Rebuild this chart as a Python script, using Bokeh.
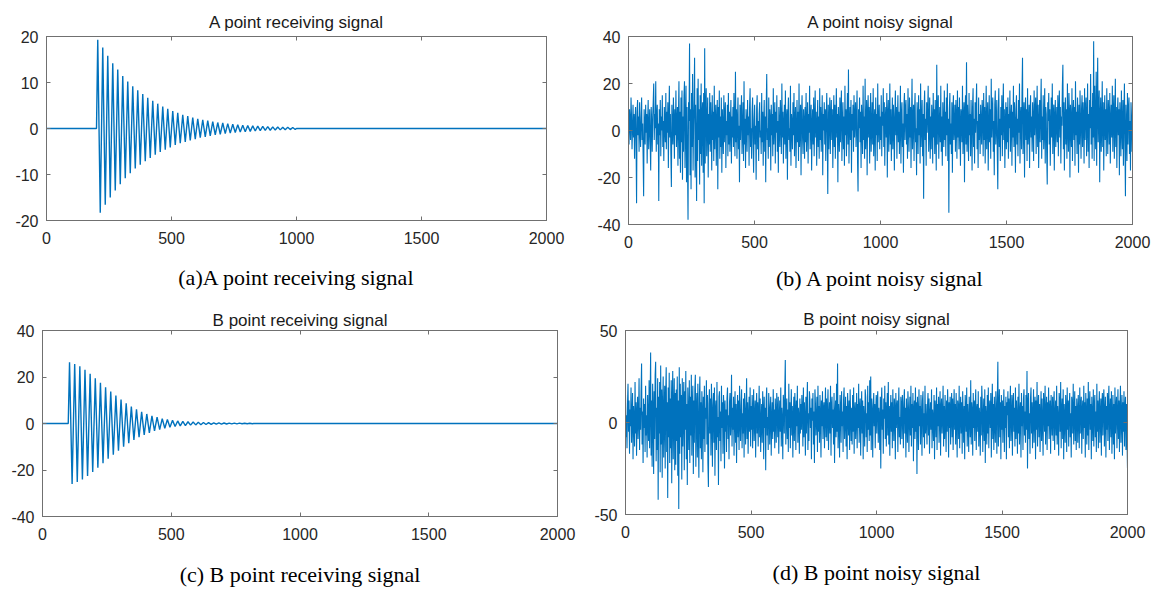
import numpy as np
from bokeh.plotting import figure
from bokeh.layouts import column, row
from bokeh.models import Title, LinearAxis, FixedTicker, Range1d
from bokeh.embed import file_html
from bokeh.resources import INLINE

# ---------------- data ----------------
x_ticks = [0, 500, 1000, 1500, 2000]

titles = ["A point receiving signal", "A point noisy signal",
          "B point receiving signal", "B point noisy signal"]
captions = ["(a)A point receiving signal", "(b) A point noisy signal",
            "(c) B point receiving signal", "(d) B point noisy signal"]

a_yticks = [-20, -10, 0, 10, 20]
b_yticks = [-40, -20, 0, 20, 40]
c_yticks = [-40, -20, 0, 20, 40]
d_yticks = [-50, 0, 50]

# (a) A point receiving signal: sample index of each turning point and its value
a_t = [0, 200,
       205, 215, 225, 235, 245, 255, 265, 275, 285, 295,
       305, 315, 325, 335, 345, 355, 365, 375, 385, 395,
       405, 415, 425, 435, 445, 455, 465, 475, 485, 495,
       505, 515, 525, 535, 545, 555, 565, 575, 585, 595,
       605, 615, 625, 635, 645, 655, 665, 675, 685, 695,
       705, 715, 725, 735, 745, 755, 765, 775, 785, 795,
       805, 815, 825, 835, 845, 855, 865, 875, 885, 895,
       905, 915, 925, 935, 945, 955, 965, 975, 985, 995,
       1000, 2000]
a_v = [0, 0,
       19.3, -18.3, 17.6, -16.6, 15.8, -15.0, 14.2, -13.5, 12.8, -12.1,
       11.4, -10.8, 10.2, -9.7, 9.2, -8.7, 8.3, -7.9, 7.5, -7.1,
       6.7, -6.4, 6.0, -5.7, 5.4, -5.1, 4.8, -4.6, 4.3, -4.1,
       3.8, -3.6, 3.4, -3.2, 3.0, -2.9, 2.7, -2.6, 2.4, -2.3,
       2.1, -2.0, 1.9, -1.8, 1.7, -1.6, 1.5, -1.4, 1.3, -1.25,
       1.2, -1.1, 1.05, -1.0, 0.93, -0.88, 0.82, -0.78, 0.73, -0.69,
       0.65, -0.62, 0.58, -0.55, 0.51, -0.48, 0.45, -0.43, 0.40, -0.38,
       0.36, -0.34, 0.32, -0.30, 0.28, -0.27, 0.25, -0.24, 0.22, -0.21,
       0, 0]

# (c) B point receiving signal: turning points
c_t = [0, 100,
       105, 115, 125, 135, 145, 155, 165, 175, 185, 195,
       205, 215, 225, 235, 245, 255, 265, 275, 285, 295,
       305, 315, 325, 335, 345, 355, 365, 375, 385, 395,
       405, 415, 425, 435, 445, 455, 465, 475, 485, 495,
       505, 515, 525, 535, 545, 555, 565, 575, 585, 595,
       605, 615, 625, 635, 645, 655, 665, 675, 685, 695,
       705, 715, 725, 735, 745, 755, 765, 775, 785, 795,
       805, 815,
       820, 2000]
c_v = [0, 0,
       26.3, -26.0, 25.6, -25.2, 24.6, -24.1, 23.1, -22.6, 21.4, -20.9,
       19.5, -19.0, 17.5, -17.1, 15.6, -15.2, 13.8, -13.4, 12.0, -11.7,
       10.3, -10.0, 8.7, -8.5, 7.3, -7.1, 6.1, -5.9, 5.0, -4.9,
       4.1, -4.0, 3.3, -3.2, 2.7, -2.6, 2.1, -2.05, 1.7, -1.65,
       1.35, -1.3, 1.1, -1.05, 0.9, -0.88, 0.75, -0.72, 0.62, -0.6,
       0.52, -0.5, 0.44, -0.42, 0.37, -0.36, 0.31, -0.3, 0.26, -0.25,
       0.22, -0.21, 0.19, -0.18, 0.16, -0.15, 0.14, -0.13, 0.12, -0.11,
       0.10, -0.09,
       0, 0]

# (b) A point noisy signal, every 2nd sample (each row = 100 samples)
b_v = [
    2, -6, 9, 3, -4, 14, 6, -8, 1, 11, -3, 7, -12, 4, 10, -5, -31, 8, 13, -2, 6, -9, 12, 0, -7, 5, 14, -4, 3, -11, -28, 9, 2, -6, 11, -1, 7, -14, 4, 13, -8, 1, 9, -5, -17, 10, 3, -9, 6, 12,
    20, -4, 7, 1, 21, -9, 5, 11, -6, 3, -30, 9, -2, 13, -11, 6, 0, 15, -7, 4, -13, 10, 2, -5, 16, -8, 8, -1, 12, -16, 5, 19, -3, 7, -10, -24, 11, 1, -6, 14, 4, -12, 9, -2, 17, -7, 3, 10, -15, 6,
    21, -12, 8, -18, 14, -5, 17, -21, 6, -9, 15, 21, -16, 3, 19, -22, 10, -14, -38, 12, 4, 37, -19, 9, -25, 16, -7, 24, -17, 2, 13, 31, -20, 11, -6, -30, 18, -13, 22, -4, 9, -23, 15, -10, 20, -15, 7, 12, -18, 16,
    -31, 35, -14, 9, 18, -11, 4, 14, -20, 7, -6, 16, -9, 12, 2, -17, 15, -4, 8, -13, 19, -8, 5, 11, -15, 3, 13, -25, 10, -3, 17, -12, 6, -7, 14, -18, 9, 1, -10, 15, -5, 7, 12, -16, 4, -2, 11, -11, 16, -6,
    8, -9, 3, 13, -14, 6, -3, 10, -7, 16, 1, -11, 25, -5, 9, -12, 4, 14, -8, 2, -22, 11, -4, 7, 15, -10, 0, 12, -13, 21, -6, 5, -16, 9, 3, -9, 13, -2, 6, -15, 10, 18, -7, 1, -12, 8, 14, -5, -18, 4,
    11, -6, 2, -21, 9, 15, -8, 4, -13, 7, 12, -3, 0, -10, 16, -5, 8, -15, 3, 13, -9, 6, -22, 10, 24, -4, 1, -12, 14, -7, 9, 5, -17, 11, -2, 7, -11, 18, -6, 3, 12, -14, 8, -1, 15, -9, 4, -18, 10, 2,
    -7, 13, 5, -10, 20, -3, 8, -14, 2, 11, -6, 17, -12, 4, 9, -21, 6, 14, -4, 1, -9, 19, -15, 7, 3, -8, 12, -2, 16, -11, 5, 10, -16, 0, 13, -5, 8, -13, 20, -7, 2, 11, -19, 6, 15, -3, -10, 9, 4, -12,
    10, -5, 16, -9, 3, 12, -14, 7, -1, 19, -8, 5, 11, -17, 2, 9, -6, 14, -11, 4, 17, -3, 8, -15, 1, 13, -7, 6, -12, 18, -4, 10, -9, 3, 15, -19, 7, 0, 12, -6, 9, -13, 5, 16, -2, -27, 11, -8, 4, 14,
    -10, 6, 13, -4, 9, -16, 2, 15, -7, 11, -12, 4, 18, -3, 7, -22, 10, 1, -9, 14, -5, 8, 17, -13, 3, 12, -8, 6, -15, 19, -2, 9, -11, 5, 16, -6, 26, -14, 2, 10, -4, 13, -18, 7, 0, 11, -9, 15, -3, 6,
    12, -7, 4, 17, -13, -26, 9, 1, 14, -5, 8, -16, 11, 3, -10, 19, -4, 6, -12, 22, -8, 2, 13, -19, 7, 15, -3, 10, -14, 5, 16, -9, 1, 12, -6, 18, -11, 4, 9, -17, 14, -2, 7, -13, 20, -5, 3, 11, -8, 6,
    -4, 15, -11, 8, 2, 18, -7, 12, -15, 5, 10, -3, 16, -20, 6, 13, -9, 3, 20, -6, 9, -13, 1, 14, -8, 11, 4, -17, 7, 17, -2, 10, -12, 5, 15, -5, 8, -10, 2, 19, -14, 6, 12, -7, 3, -18, 11, 16, -4, 9,
    13, -6, 7, -12, 18, 2, -9, 14, -3, 10, -16, 5, 22, -8, 4, 11, -13, 8, 16, -5, 1, -19, 12, 6, -10, 15, -2, 9, -14, 20, -7, 3, 13, -11, 7, -29, 10, 17, -4, 5, -15, 12, -1, 8, 19, -9, 2, 14, -12, 6,
    -8, 11, 4, -14, 16, -3, 9, -10, 13, 1, -17, 28, -6, 7, 15, -12, 3, 10, -5, 19, -9, 6, -15, 12, 2, -7, 17, -4, 8, -11, 14, -2, 20, -13, 5, -35, 9, 16, -6, 3, -10, 12, -18, 7, 15, -4, 1, 11, -9, 13,
    5, -12, 17, -3, 10, -8, 14, 2, -15, 9, 6, -5, 19, -10, 4, 12, -22, 8, 15, -6, 29, -9, 11, 1, -13, 16, -2, 7, -11, 13, 3, -17, 10, 18, -7, 5, -14, 12, -1, 9, 20, -8, 4, -16, 14, -4, 7, -10, 11, 2,
    -6, 13, 8, -11, 16, -4, 10, -14, 3, 19, -8, 6, 12, -17, 1, 15, -5, 9, -12, 22, -3, 7, 14, -9, 4, -19, 11, 17, -6, 2, 13, -10, -25, 8, 18, -7, 5, -13, 10, -2, 15, -11, 6, 20, -4, 9, -16, 3, 12, -8,
    10, -5, 14, -12, 7, 1, 17, -9, 4, 11, -15, 8, -3, 19, -7, 12, 2, -18, 9, 15, -6, 5, -11, 13, -1, 20, -14, 6, 10, -8, 16, 31, -10, 3, 12, -20, 7, 14, -4, 9, -13, 18, -6, 2, 11, -16, 8, 15, -3, 6,
    -9, 12, 4, -13, 17, -2, 8, 14, -10, 5, 19, -7, 11, -16, 3, 13, -5, 9, 22, -12, 6, -4, 15, -8, 1, 18, -14, 10, 7, -11, -23, 12, 4, 16, -6, 9, -15, 2, 14, -3, 20, -10, 7, 11, -17, 5, 13, -7, 3, 10,
    -5, 15, -11, 8, 17, -3, 10, -14, 6, 2, 19, 28, -8, 12, -17, 4, 14, -6, 9, -12, 20, 1, -9, 16, 7, -20, 11, 3, -7, 18, -13, 6, 13, -4, 10, -15, 21, -2, 8, -10, 14, 5, -18, 11, -6, 17, 3, -12, 9, 15,
    -7, 12, 5, -14, 18, -4, 9, 14, -11, 3, 20, -9, 7, -16, 13, 1, 24, -6, 10, -12, 16, -3, 38, -13, 19, 4, -8, 25, -15, 11, 31, -5, 8, 17, -22, 6, 14, -9, 2, 21, -7, 12, -17, 5, 15, -4, 9, -11, 18, 3,
    -10, 13, 7, -6, 16, -14, 4, 11, -3, 19, -9, 8, 15, -12, 2, 22, -7, 10, -16, 6, 14, -2, 9, -19, 12, 5, -11, 17, 1, -8, 13, -15, 7, 20, -5, -28, 11, 3, -13, 16, -6, 9, 14, -10, 4, -17, 12, 6, -9, -8,
]

# (d) B point noisy signal, every 2nd sample (each row = 100 samples)
d_v = [
    15, -8, 4, -14, 10, 21, -5, 12, -17, 7, -2, 19, -11, 3, 16, -20, 9, 1, -13, 22, -6, 11, -18, 5, 14, -9, 2, 24, -15, 8, -4, 17, 32, -12, 6, -22, 13, -3, 10, -16, 20, -7, 4, -19, 15, 1, -10, 23, -14, 9,
    38, -18, 12, -24, 21, 6, -28, 17, -9, 26, 33, -21, 8, -15, 24, -42, 14, -6, 22, -27, 31, -12, 18, -30, 9, 25, -19, 4, 20, -25, 15, 30, -16, 11, -41, 19, -8, 27, -22, 13, -14, 23, -33, 10, 28, -20, 5, 24, -26, 16,
    -23, 18, -10, 25, -29, 12, -47, 30, -17, 21, -8, 15, -31, 24, -13, 6, 22, -26, 17, -4, 28, -20, 10, -34, 19, 3, -15, 23, -22, 14, -7, 26, -18, 9, 20, -28, 12, -11, 18, 26, -24, 7, 16, -19, 21, -3, -30, 13, 25, -14,
    11, -20, 17, 5, -27, 14, -9, 20, -16, 8, 2, 23, -12, 15, -22, -35, 10, 18, -6, 13, -18, 21, 4, -24, 9, 16, -11, 19, -29, 7, 12, -15, 22, -8, 3, -34, 14, 17, -10, 6, -21, 20, -3, 11, -17, 15, 8, -25, 12, -5,
    7, -16, 13, 19, -9, 4, -20, 11, 16, -7, 2, 26, -13, 8, -4, 14, -18, 6, 17, -11, 10, -22, 3, 15, -8, 12, -15, 20, 1, -10, 9, 18, -14, 5, -6, 13, -19, 16, 7, -12, 4, 24, -9, 11, -17, 3, 14, -5, 19, -13,
    9, -4, 15, -14, 6, 18, -10, 2, 12, -19, 7, 16, -6, 11, -13, 4, 20, -8, 13, -16, 1, 10, -11, 17, 5, -20, 14, -3, 8, -26, 12, 19, -7, 3, -15, 16, 9, -12, 6, 14, -18, 2, 11, -9, 18, -5, 7, -14, 13, 4,
    -11, 16, 6, -8, 14, -17, 3, 12, -5, 19, -13, 8, 1, -20, 15, 10, -6, 17, 34, -12, 4, 13, -9, 7, -16, 21, -3, 11, -14, 5, 18, -7, 9, -19, 2, 14, -10, 16, 6, -15, 12, -2, 20, -11, 8, 3, -17, 13, -6, 10,
    -4, 15, 7, -13, 19, -8, 11, 2, -18, 14, -6, 9, 22, -15, 5, -10, 17, 12, -3, 8, -20, 13, 1, 16, -12, 6, -22, 18, 10, -7, 3, 14, -16, 20, -5, 9, -11, 15, 4, -19, 12, -2, 17, -9, 7, 11, -14, 5, 19, -8,
    13, -10, 6, 18, -15, 2, 11, -6, 20, -18, 9, 14, -3, 7, -12, 16, -22, 4, 12, -8, 21, -5, 32, -14, 10, 3, -19, 15, 8, -11, 17, -2, 6, -16, 13, 19, -9, 1, 14, -13, 9, -20, 16, 5, -7, 12, -15, 18, 3, -10,
    8, -12, 15, -5, 19, -17, 6, 11, -9, 2, 16, -14, 10, -3, 21, -11, 7, 13, -18, 4, 17, -6, 12, -20, 9, 1, -13, 18, 14, -8, 5, -16, 20, -4, 11, -10, 23, -7, 25, -15, 13, 6, -19, 9, 16, -2, 10, -14, 7, 15,
    -6, 12, 17, -11, 8, 3, -15, 14, -25, 10, 19, -4, 7, -17, 13, 2, 20, -9, 11, -13, 5, 16, -7, 22, -12, 9, -18, 4, 15, -5, 11, -14, 18, 1, -10, 13, 7, -20, 16, -3, 9, 12, -16, 6, 19, -8, 3, -12, 14, 10,
    -9, 15, 5, -14, 11, 18, -6, 8, -19, 13, 2, -11, 17, 9, -16, 4, 14, -7, 20, -13, 10, -3, 16, -21, 7, 12, -9, 19, -5, 11, -28, 14, 6, -15, 18, -2, 9, -12, 15, 3, -18, 12, 17, -8, 5, -14, 20, -6, 10, 1,
    -12, 9, 16, -7, 13, -17, 4, 11, -4, 18, -14, 7, 2, -10, 15, -20, 12, 6, -8, 19, -15, 10, -2, 14, -11, 5, 17, -18, 8, 13, -6, 3, 20, -13, 9, -9, 15, 1, -16, 12, -5, 18, 7, -19, 11, -3, 14, -12, 6, 16,
    -8, 13, -15, 6, 18, -4, 10, -12, 16, 2, -19, 12, 8, -9, 20, -14, 5, 14, -6, 11, -17, 17, 3, -11, 9, -20, 15, 7, -5, 19, -13, 10, 1, -16, 14, 4, -8, 23, -12, 11, 6, -18, 16, -3, 12, -10, 8, 18, -15, 7,
    10, -5, 17, -13, 8, 3, -18, 14, -7, 20, 11, -16, 4, 13, -10, 18, -22, 9, 2, -12, 15, -6, 19, -14, 7, 12, -3, 16, -19, 5, 21, -9, 10, -15, 14, 1, -11, 17, 8, -17, 13, 33, -13, 6, 18, -8, 11, -20, 15, -4,
    12, -11, 6, 18, -16, 9, -3, 14, -20, 11, 4, 17, -8, 13, -14, 7, 20, -10, 2, 15, -18, 10, 16, -5, 8, -13, 19, -9, 12, 3, -17, 14, -6, 21, -12, 5, 11, -19, 16, -2, 9, -15, 13, 18, -7, 6, -11, 15, -4, 28,
    -25, 10, 16, -9, 5, -17, 13, 19, -6, 11, -14, 3, 18, -11, 8, 14, -20, 12, -4, 22, -13, 7, 15, -8, 10, -16, 4, 17, -10, 13, 1, -18, 16, 9, -5, 20, -12, 6, 14, -15, 11, -2, 19, -9, 7, 12, -17, 15, 3, -7,
    14, -10, 8, 17, -15, 4, 12, -7, 20, -12, 9, 2, -18, 16, 11, -5, 22, -14, 6, 13, -9, 18, -20, 10, 3, -11, 15, 7, -16, 19, -4, 12, -13, 8, 16, -8, 5, -19, 14, 10, -6, 21, -12, 4, 17, -10, 9, -15, 13, 6,
    -11, 15, 3, -14, 19, -6, 10, 14, -17, 7, 12, -9, 20, -3, 11, -19, 16, 5, -12, 13, -7, 22, -15, 8, 17, -4, 10, -20, 14, 2, -10, 18, -13, 9, 15, -8, 6, -16, 21, -5, 12, -14, 7, 17, -11, 4, 13, -18, 10, 16,
    -7, 12, 18, -13, 5, 14, -19, 9, -4, 16, -10, 11, 20, -15, 6, 13, -8, 17, -17, 3, 15, -12, 10, -20, 19, -6, 8, 14, -14, 4, 18, -9, 12, -16, 7, 20, -11, 2, 15, -18, 11, -5, 17, -13, 8, 14, -15, 10, -9, -25,
]

# sample index axis for the noisy signals (2000 samples shown every 2nd)
b_x = np.linspace(0, 2000, len(b_v))
d_x = np.linspace(0, 2000, len(d_v))

# ---------------- styling ----------------
BLUE = "#0072BD"
AXC = "#707070"
LBL = "#262626"
TICK_FONT = "Liberation Sans"


def style_axis(ax, ticks, show_labels=True):
    ax.ticker = FixedTicker(ticks=ticks)
    ax.axis_line_color = AXC
    ax.major_tick_line_color = AXC
    ax.major_tick_in = 4
    ax.major_tick_out = 0
    ax.minor_tick_line_color = None
    if show_labels:
        ax.major_label_text_font = TICK_FONT
        ax.major_label_text_font_size = "16px"
        ax.major_label_text_color = LBL
        ax.major_label_overrides = {t: str(t) for t in ticks}
    else:
        ax.major_label_overrides = {t: "" for t in ticks}
        ax.major_label_standoff = 0
        ax.major_label_text_font_size = "1px"


def panel(title, caption, xs, ys, yr, yticks, fw, fh, bl, br, bt, bb, title_standoff, cap_standoff, lw):
    p = figure(frame_width=fw, frame_height=fh,
               x_range=Range1d(0, 2000), y_range=Range1d(yr[0], yr[1]),
               output_backend="svg", toolbar_location=None,
               min_border_left=bl, min_border_right=br,
               min_border_top=bt, min_border_bottom=bb,
               background_fill_color="white", border_fill_color="white")
    p.title.text = title
    p.title.align = "center"
    p.title.text_font = "Liberation Sans"
    p.title.text_font_size = "17px"
    p.title.text_font_style = "normal"
    p.title.text_color = "#1a1a1a"
    p.title.standoff = title_standoff
    p.xgrid.visible = False
    p.ygrid.visible = False
    p.outline_line_color = AXC
    p.outline_line_width = 1

    style_axis(p.xaxis[0], x_ticks)
    p.xaxis[0].major_label_standoff = 11
    style_axis(p.yaxis[0], yticks)
    p.yaxis[0].major_label_standoff = 8

    top = LinearAxis()
    style_axis(top, x_ticks, show_labels=False)
    p.add_layout(top, "above")
    right = LinearAxis()
    style_axis(right, yticks, show_labels=False)
    p.add_layout(right, "right")

    p.line(xs, ys, line_color=BLUE, line_width=lw)

    p.add_layout(Title(text=caption, align="center", text_font="Liberation Serif",
                       text_font_size="22px", text_font_style="normal",
                       text_color="#000000", standoff=cap_standoff), "below")
    return p


pa = panel(titles[0], captions[0], a_t, a_v, (-20, 20), a_yticks,
           500, 184, 46, 34, 36, 60, 10, 32, 1.4)
pb = panel(titles[1], captions[1], b_x, b_v, (-40, 40), b_yticks,
           504, 188, 48, 23, 34, 60, 10, 26, 1.1)
pc = panel(titles[2], captions[2], c_t, c_v, (-40, 40), c_yticks,
           515, 186, 42, 27, 21, 60, 2, 35, 1.4)
pd = panel(titles[3], captions[3], d_x, d_v, (-50, 50), d_yticks,
           502, 184, 41, 28, 23, 60, 4, 35, 1.1)

layout = column(row(pa, pb), row(pc, pd))

open("out.html", "w").write(file_html(layout, INLINE))
